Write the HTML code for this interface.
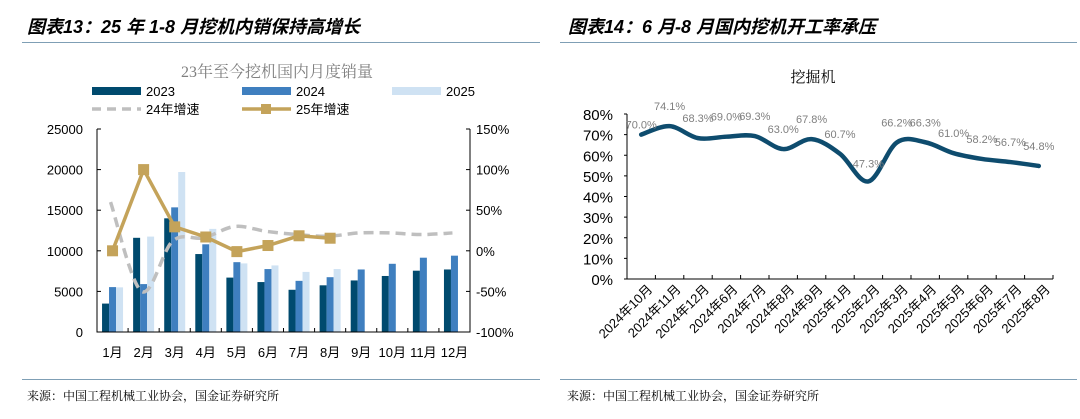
<!DOCTYPE html>
<html><head><meta charset="utf-8"><style>
body{margin:0;width:1080px;height:419px;background:#fff;overflow:hidden;font-family:"Liberation Sans","Noto Sans CJK SC",sans-serif}
.t{position:absolute;font-weight:bold;font-style:italic;font-size:18px;font-family:"Liberation Sans","Noto Sans CJK SC",sans-serif;color:#000}
.ln{position:absolute;height:1px;background:#7f9fb5}
.src{position:absolute;font-size:12px;font-family:"Liberation Serif","Noto Serif CJK SC",serif;color:#000}
</style></head><body>
<div class="t" style="left:27px;top:13px">图表13：25 年 1-8 月挖机内销保持高增长</div>
<div class="t" style="left:568px;top:13px">图表14：6 月-8 月国内挖机开工率承压</div>
<div class="ln" style="left:22px;top:42px;width:518px"></div>
<div class="ln" style="left:560px;top:42px;width:517px"></div>
<div class="ln" style="left:22px;top:379px;width:518px"></div>
<div class="ln" style="left:560px;top:379px;width:517px"></div>
<div class="src" style="left:27px;top:387px">来源：中国工程机械工业协会，国金证券研究所</div>
<div class="src" style="left:567px;top:387px">来源：中国工程机械工业协会，国金证券研究所</div>
<svg id="s" width="1080" height="419" style="position:absolute;left:0;top:0" font-family="Liberation Sans, Noto Sans CJK SC, sans-serif"></svg>
<script>
const months=['1月','2月','3月','4月','5月','6月','7月','8月','9月','10月','11月','12月'];
const s2023=[3500,11600,14000,9600,6700,6150,5200,5750,6350,6900,7550,7700];
const s2024=[5530,5900,15350,10800,8600,7750,6300,6750,7700,8400,9150,9400];
const s2025=[5500,11750,19700,12700,8450,8200,7400,7750];
const g24=[60,-50,12,16,30,24,20,18,22,22,20,22];
const g25=[0,100,29.5,17,-1,6.5,18.5,15.5];
const leftTicks=[0,5000,10000,15000,20000,25000];
const rightTicks=[-100,-50,0,50,100,150];
const rCats=['2024年10月','2024年11月','2024年12月','2024年6月','2024年7月','2024年8月','2024年9月','2025年1月','2025年2月','2025年3月','2025年4月','2025年5月','2025年6月','2025年7月','2025年8月'];
const rVals=[70.0,74.1,68.3,69.0,69.3,63.0,67.8,60.7,47.3,66.2,66.3,61.0,58.2,56.7,54.8];
const rTicks=[0,10,20,30,40,50,60,70,80];

const svg=document.getElementById('s');const NS='http://www.w3.org/2000/svg';
function el(t,a,txt){const e=document.createElementNS(NS,t);for(const k in a)e.setAttribute(k,a[k]);if(txt!==undefined)e.textContent=txt;svg.appendChild(e);return e;}
function smooth(p){let d='M'+p[0][0]+','+p[0][1];for(let i=0;i<p.length-1;i++){const p0=p[i-1]||p[i],p1=p[i],p2=p[i+1],p3=p[i+2]||p2;d+=' C'+(p1[0]+(p2[0]-p0[0])/6)+','+(p1[1]+(p2[1]-p0[1])/6)+' '+(p2[0]-(p3[0]-p1[0])/6)+','+(p2[1]-(p3[1]-p1[1])/6)+' '+p2[0]+','+p2[1];}return d;}

// Left chart
const L={x0:97,x1:470,y0:332,y1:129};
const cw=(L.x1-L.x0)/12;
const yl=v=>L.y0-(v/25000)*(L.y0-L.y1);
const yr=v=>L.y0-((v+100)/250)*(L.y0-L.y1);
const cx=i=>L.x0+cw*(i+0.5);
let e;
e=el('text',{x:277,y:77,'text-anchor':'middle','font-size':16,fill:'#7f7f7f','font-family':'Liberation Serif, Noto Serif CJK SC, serif'},'23年至今挖机国内月度销量');

const cols=['#004a6e','#3f7fbf','#cfe2f3'];const series=[s2023,s2024,s2025];
series.forEach((ser,k)=>ser.forEach((v,i)=>{const b=el('rect',{x:cx(i)-10.5+k*7,y:yl(v),width:7,height:L.y0-yl(v),fill:cols[k]});}));
e=el('path',{d:smooth(g24.map((v,i)=>[cx(i)-2,yr(v)])),fill:'none',stroke:'#bfbfbf','stroke-width':3.5,'stroke-dasharray':'10,6'});

e=el('path',{d:g25.map((v,i)=>(i?'L':'M')+cx(i)+','+yr(v)).join(' '),fill:'none',stroke:'#c4a35a','stroke-width':3.5});

g25.forEach((v,i)=>{const m=el('rect',{x:cx(i)-5.5,y:yr(v)-5.5,width:11,height:11,fill:'#c4a35a'});});
e=el('path',{d:`M${L.x0},${L.y1} V${L.y0} H${L.x1} V${L.y1}`,fill:'none',stroke:'#000','stroke-width':1});

leftTicks.forEach(v=>{el('line',{x1:L.x0,x2:L.x0+4,y1:yl(v),y2:yl(v),stroke:'#000'});const t=el('text',{x:83,y:yl(v)+5,'text-anchor':'end','font-size':13},v);});
rightTicks.forEach(v=>{el('line',{x1:L.x1-4,x2:L.x1,y1:yr(v),y2:yr(v),stroke:'#000'});const t=el('text',{x:476,y:yr(v)+5,'font-size':13},v+'%');});
months.forEach((m,i)=>{el('line',{x1:L.x0+cw*i,x2:L.x0+cw*i,y1:L.y0,y2:L.y0-4,stroke:'#000'});const t=el('text',{x:cx(i),y:357,'text-anchor':'middle','font-size':13},m);});
// legend
[['2023',cols[0],92,87],['2024',cols[1],242,87],['2025',cols[2],392,87]].forEach(a=>{const r=el('rect',{x:a[2],y:a[3],width:49,height:8,fill:a[1]});const t=el('text',{x:a[2]+54,y:a[3]+9,'font-size':13},a[0]);});
el('line',{x1:92,x2:141,y1:109,y2:109,stroke:'#bfbfbf','stroke-width':3.5,'stroke-dasharray':'9,6'});
e=el('text',{x:146,y:114,'font-size':13},'24年增速');
el('line',{x1:242,x2:291,y1:109,y2:109,stroke:'#c4a35a','stroke-width':3.5});
el('rect',{x:261,y:104,width:10,height:10,fill:'#c4a35a'});
e=el('text',{x:296,y:114,'font-size':13},'25年增速');

// Right chart
const R={x0:627,x1:1053,y0:279,y1:114};
const rw=(R.x1-R.x0)/rCats.length;
const rx=i=>R.x0+rw*(i+0.5);
const ry=v=>R.y0-(v/80)*(R.y0-R.y1);
e=el('text',{x:813,y:82,'text-anchor':'middle','font-size':15,'font-family':'Liberation Serif, Noto Serif CJK SC, serif'},'挖掘机');

e=el('path',{d:`M${R.x0},${R.y1} V${R.y0} H${R.x1}`,fill:'none',stroke:'#000'});

rTicks.forEach(v=>{el('line',{x1:R.x0-3,x2:R.x0,y1:ry(v),y2:ry(v),stroke:'#000'});const t=el('text',{x:613,y:ry(v)+6,'text-anchor':'end','font-size':15},v+'%');});
for(let i=0;i<=rCats.length;i++)el('line',{x1:R.x0+rw*i,x2:R.x0+rw*i,y1:R.y0,y2:R.y0-4,stroke:'#000'});
e=el('path',{d:smooth(rVals.map((v,i)=>[rx(i),ry(v)])),fill:'none',stroke:'#0e4c6e','stroke-width':4.5,'stroke-linecap':'round'});

rVals.forEach((v,i)=>{const t=el('text',{x:rx(i),y:ry(v)-(i==8?14:i==0?-4:16)+(i==0?-10:0),'text-anchor':'middle','font-size':11,fill:'#7f7f7f'},v.toFixed(1)+'%');});
rCats.forEach((c,i)=>{const x=rx(i)+12,y=290;const t=el('text',{x:x,y:y,'text-anchor':'end','font-size':13,transform:`rotate(-45 ${x} ${y})`},c);});
</script>
</body></html>
